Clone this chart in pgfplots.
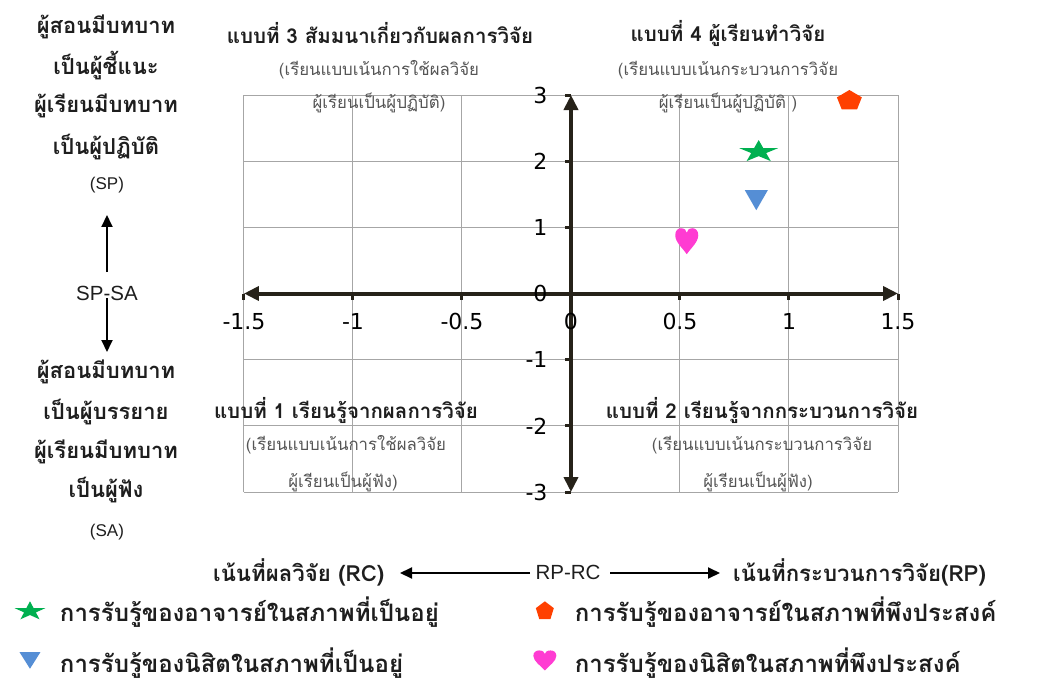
\documentclass[border=0pt]{standalone}
\usepackage{fontspec}
\usepackage{pgfplots}
\pgfplotsset{compat=1.18}
\usetikzlibrary{arrows.meta}
\setmainfont[Script=Thai]{Loma}
\newfontfamily\lat{Liberation Sans}
\newfontfamily\tickfont{DejaVu Sans}
\definecolor{axisc}{RGB}{38,34,25}
\definecolor{gridc}{RGB}{166,166,166}
\definecolor{cstar}{RGB}{0,176,80}
\definecolor{cpent}{RGB}{255,64,0}
\definecolor{ctri}{RGB}{85,142,213}
\definecolor{cheart}{RGB}{255,60,210}
\definecolor{txt}{RGB}{30,30,30}
\definecolor{subc}{RGB}{85,85,85}

% squashed five-pointed star, bbox centred, units of mark size
\pgfdeclareplotmark{sstar}{%
 \pgfpathmoveto{\pgfpoint{0pt}{10.49\pgfplotmarksize}}%
 \pgfpathlineto{\pgfpoint{-4.61\pgfplotmarksize}{2.48\pgfplotmarksize}}%
 \pgfpathlineto{\pgfpoint{-19.52\pgfplotmarksize}{2.48\pgfplotmarksize}}%
 \pgfpathlineto{\pgfpoint{-7.45\pgfplotmarksize}{-2.48\pgfplotmarksize}}%
 \pgfpathlineto{\pgfpoint{-12.07\pgfplotmarksize}{-10.49\pgfplotmarksize}}%
 \pgfpathlineto{\pgfpoint{0pt}{-5.54\pgfplotmarksize}}%
 \pgfpathlineto{\pgfpoint{12.07\pgfplotmarksize}{-10.49\pgfplotmarksize}}%
 \pgfpathlineto{\pgfpoint{7.45\pgfplotmarksize}{-2.48\pgfplotmarksize}}%
 \pgfpathlineto{\pgfpoint{19.52\pgfplotmarksize}{2.48\pgfplotmarksize}}%
 \pgfpathlineto{\pgfpoint{4.61\pgfplotmarksize}{2.48\pgfplotmarksize}}%
 \pgfpathclose\pgfusepathqfill}
% pentagon
\pgfdeclareplotmark{spent}{%
 \pgfpathmoveto{\pgfpoint{0pt}{9.65\pgfplotmarksize}}%
 \pgfpathlineto{\pgfpoint{-12.46\pgfplotmarksize}{2.28\pgfplotmarksize}}%
 \pgfpathlineto{\pgfpoint{-7.70\pgfplotmarksize}{-9.65\pgfplotmarksize}}%
 \pgfpathlineto{\pgfpoint{7.70\pgfplotmarksize}{-9.65\pgfplotmarksize}}%
 \pgfpathlineto{\pgfpoint{12.46\pgfplotmarksize}{2.28\pgfplotmarksize}}%
 \pgfpathclose\pgfusepathqfill}
% downward triangle
\pgfdeclareplotmark{dtri}{%
 \pgfpathmoveto{\pgfpoint{-11.5\pgfplotmarksize}{10\pgfplotmarksize}}%
 \pgfpathlineto{\pgfpoint{11.5\pgfplotmarksize}{10\pgfplotmarksize}}%
 \pgfpathlineto{\pgfpoint{0pt}{-10\pgfplotmarksize}}%
 \pgfpathclose\pgfusepathqfill}
% heart
\pgfdeclareplotmark{heart}{%
 \pgfpathmoveto{\pgfpoint{0pt}{-13\pgfplotmarksize}}%
 \pgfpathcurveto{\pgfpoint{-4\pgfplotmarksize}{-7\pgfplotmarksize}}{\pgfpoint{-11.5\pgfplotmarksize}{-1\pgfplotmarksize}}{\pgfpoint{-11.5\pgfplotmarksize}{6\pgfplotmarksize}}%
 \pgfpathcurveto{\pgfpoint{-11.5\pgfplotmarksize}{10.5\pgfplotmarksize}}{\pgfpoint{-9\pgfplotmarksize}{13\pgfplotmarksize}}{\pgfpoint{-5.75\pgfplotmarksize}{13\pgfplotmarksize}}%
 \pgfpathcurveto{\pgfpoint{-2.5\pgfplotmarksize}{13\pgfplotmarksize}}{\pgfpoint{0pt}{11\pgfplotmarksize}}{\pgfpoint{0pt}{8.5\pgfplotmarksize}}%
 \pgfpathcurveto{\pgfpoint{0pt}{11\pgfplotmarksize}}{\pgfpoint{2.5\pgfplotmarksize}{13\pgfplotmarksize}}{\pgfpoint{5.75\pgfplotmarksize}{13\pgfplotmarksize}}%
 \pgfpathcurveto{\pgfpoint{9\pgfplotmarksize}{13\pgfplotmarksize}}{\pgfpoint{11.5\pgfplotmarksize}{10.5\pgfplotmarksize}}{\pgfpoint{11.5\pgfplotmarksize}{6\pgfplotmarksize}}%
 \pgfpathcurveto{\pgfpoint{11.5\pgfplotmarksize}{-1\pgfplotmarksize}}{\pgfpoint{4\pgfplotmarksize}{-7\pgfplotmarksize}}{\pgfpoint{0pt}{-13\pgfplotmarksize}}%
 \pgfpathclose\pgfusepathqfill}

\newcommand{\tb}{\bfseries\fontsize{20.5}{24}\selectfont}
\newcommand{\bt}{\bfseries\fontsize{22.2}{26}\selectfont}
\newcommand{\ts}{\fontsize{16.8}{20}\selectfont}
\newcommand{\lb}{\bfseries\fontsize{22}{26}\selectfont}
\newcommand{\lfnt}{\lat\fontsize{17}{20}\selectfont}
\newcommand{\lfntb}{\lat\fontsize{20.5}{24}\selectfont}

\begin{document}
\begin{tikzpicture}
\begin{axis}[
  at={(0pt,0pt)}, anchor=south west,
  scale only axis, width=654pt, height=397pt,
  xmin=-1.5, xmax=1.5, ymin=-3, ymax=3,
  enlargelimits=false,
  axis lines=middle,
  axis line style={line width=4pt, draw=axisc, <->, >={Triangle[length=15pt,width=14pt]}},
  every inner x axis line/.append style={<->},
  every inner y axis line/.append style={<->},
  xtick={-1.5,-1,-0.5,0,0.5,1,1.5},
  xticklabels={-1.5,-1,-0.5,0,0.5,1,1.5},
  ytick={-3,-2,-1,0,1,2,3},
  yticklabels={-3,-2,-1,0,1,2,3},
  hide obscured x ticks=false, hide obscured y ticks=false,
  grid=major, major grid style={draw=gridc, line width=1pt},
  tick style={draw=axisc, line width=3pt},
  major tick length=6pt,
  tick align=outside,
  ticklabel style={font=\tickfont\fontsize{22}{26}\selectfont, text=black},
  xticklabel style={anchor=north, yshift=-10pt},
  yticklabel style={anchor=east, xshift=-14pt},
  clip=false,
  legend columns=2,
  legend cell align=left,
  legend style={draw=none, fill=none, at={(-0.352,-0.2594)}, anchor=north west,
    inner sep=0pt, font=\bfseries\fontsize{24}{28}\selectfont, text=txt,
    /tikz/every even column/.append style={column sep=88pt}, row sep=20pt},
  legend image code/.code={\path[draw=none,fill=none] (-16pt,-10pt) rectangle (28pt,10pt); \draw[#1] plot coordinates {(0pt,0pt)};},
]
\addplot[only marks, mark=sstar, color=cstar, mark size=1pt,
  legend image post style={mark options={xscale=0.79,yscale=0.86}}]
  coordinates {(0.861,2.16)};
\addlegendentry{การรับรู้ของอาจารย์ในสภาพที่เป็นอยู่}
\addplot[only marks, mark=spent, color=cpent, mark size=1pt,
  legend image post style={mark options={xscale=0.72,yscale=0.93}}]
  coordinates {(1.277,2.93)};
\addlegendentry{การรับรู้ของอาจารย์ในสภาพที่พึงประสงค์}
\addplot[only marks, mark=dtri, color=ctri, mark size=1pt,
  legend image post style={mark options={xscale=0.91,yscale=0.83}}]
  coordinates {(0.85,1.41)};
\addlegendentry{การรับรู้ของนิสิตในสภาพที่เป็นอยู่}
\addplot[only marks, mark=heart, color=cheart, mark size=1pt,
  legend image post style={mark options={xscale=1,yscale=0.77}}]
  coordinates {(0.531,0.79)};
\addlegendentry{การรับรู้ของนิสิตในสภาพที่พึงประสงค์}
\end{axis}

\begin{scope}[x=1pt,y=-1pt,shift={(-244pt,492pt)}]
 % quadrant labels
 \node[font=\tb, text=txt] at (380,33) {แบบที่ 3 สัมมนาเกี่ยวกับผลการวิจัย};
 \node[font=\ts, text=subc] at (379,70) {(เรียนแบบเน้นการใช้ผลวิจัย};
 \node[font=\ts, text=subc] at (379,103) {ผู้เรียนเป็นผู้ปฏิบัติ)};
 \node[font=\tb, text=txt] at (728,33) {แบบที่ 4 ผู้เรียนทำวิจัย};
 \node[font=\ts, text=subc] at (728,70) {(เรียนแบบเน้นกระบวนการวิจัย};
 \node[font=\ts, text=subc] at (728,103) {ผู้เรียนเป็นผู้ปฏิบัติ )};
 \node[font=\tb, text=txt] at (346,410) {แบบที่ 1 เรียนรู้จากผลการวิจัย};
 \node[font=\ts, text=subc] at (346,445) {(เรียนแบบเน้นการใช้ผลวิจัย};
 \node[font=\ts, text=subc] at (343,482) {ผู้เรียนเป็นผู้ฟัง)};
 \node[font=\tb, text=txt] at (762,410) {แบบที่ 2 เรียนรู้จากกระบวนการวิจัย};
 \node[font=\ts, text=subc] at (762,445) {(เรียนแบบเน้นกระบวนการวิจัย};
 \node[font=\ts, text=subc] at (758,482) {ผู้เรียนเป็นผู้ฟัง)};
 % left side labels
 \node[font=\lb, text=txt] at (106,27) {ผู้สอนมีบทบาท};
 \node[font=\lb, text=txt] at (106,66) {เป็นผู้ชี้แนะ};
 \node[font=\lb, text=txt] at (106,106) {ผู้เรียนมีบทบาท};
 \node[font=\lb, text=txt] at (106,147) {เป็นผู้ปฏิบัติ};
 \node[font=\lfnt, text=txt] at (107,185) {(SP)};
 \draw[line width=2pt, -{Triangle[length=12pt,width=11pt]}] (107,272) -- (107,215);
 \node[font=\lfntb, text=txt] at (107,293) {SP-SA};
 \draw[line width=2pt, -{Triangle[length=12pt,width=11pt]}] (107,298) -- (107,352);
 \node[font=\lb, text=txt] at (106,372) {ผู้สอนมีบทบาท};
 \node[font=\lb, text=txt] at (106,412) {เป็นผู้บรรยาย};
 \node[font=\lb, text=txt] at (106,452) {ผู้เรียนมีบทบาท};
 \node[font=\lb, text=txt] at (106,490) {เป็นผู้ฟัง};
 \node[font=\lfnt, text=txt] at (107,532) {(SA)};
 % bottom
 \node[font=\bt, text=txt, anchor=west, inner sep=0pt] at (213,572) {เน้นที่ผลวิจัย (RC)};
 \draw[line width=2pt, -{Triangle[length=12pt,width=11pt]}] (530,573) -- (400,573);
 \node[font=\lfntb, text=txt] at (568,572) {RP-RC};
 \draw[line width=2pt, -{Triangle[length=12pt,width=11pt]}] (610,573) -- (720,573);
 \node[font=\bt, text=txt, anchor=west, inner sep=0pt] at (733,572) {เน้นที่กระบวนการวิจัย(RP)};
\end{scope}
\pgfresetboundingbox
\path[use as bounding box] (-244pt,-189pt) rectangle (801pt,492pt);
\end{tikzpicture}
\end{document}
